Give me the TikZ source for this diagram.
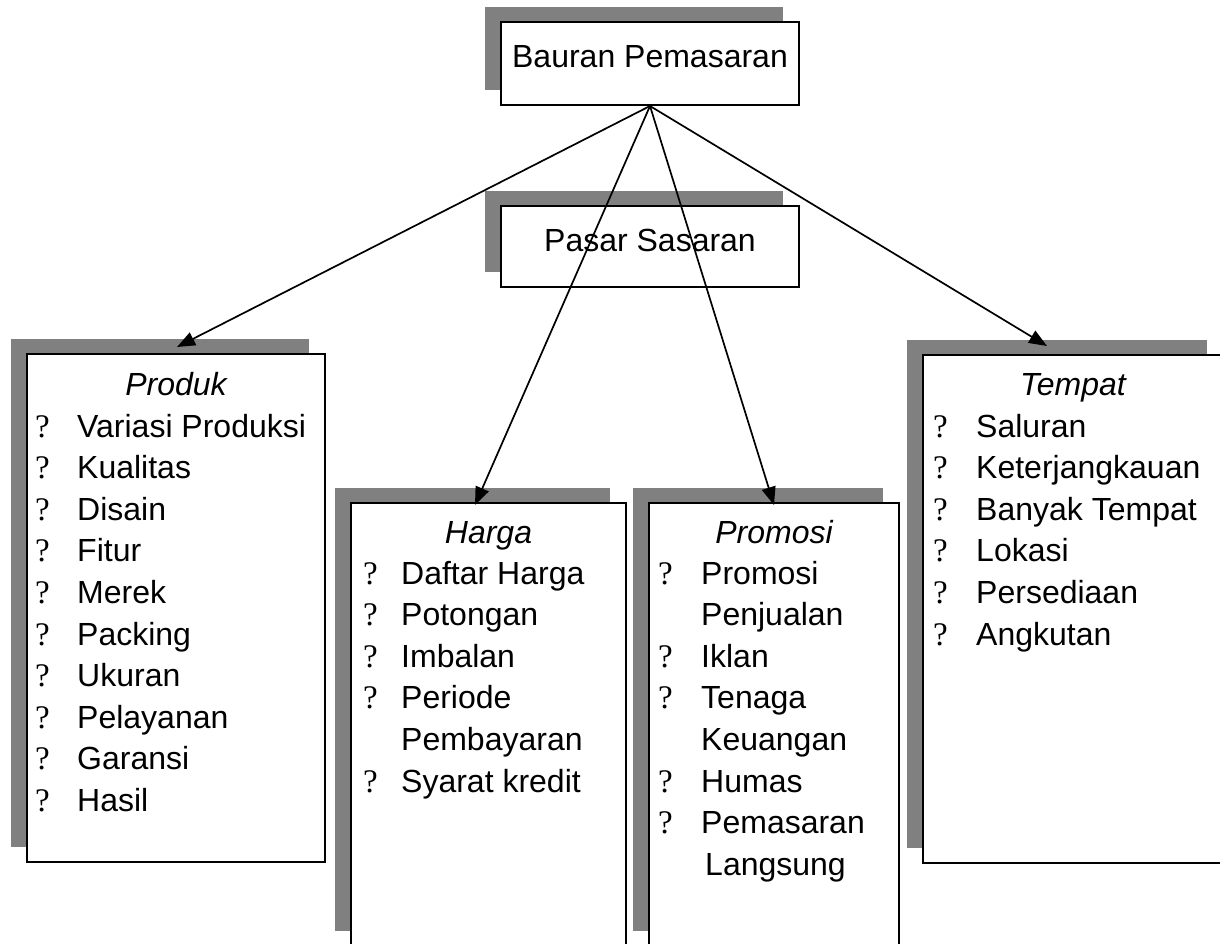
\documentclass[tikz,border=0pt]{standalone}
\usepackage{fontspec}
\setmainfont{Liberation Sans}
\newfontfamily\qfont{Liberation Serif}
\usetikzlibrary{arrows.meta,shadows}
\definecolor{shgray}{HTML}{808080}
\begin{document}
\begin{tikzpicture}[x=1pt,y=-1pt,
  box/.style={draw=black, line width=2pt, fill=white, inner sep=0pt,
    drop shadow={shadow xshift=-16pt, shadow yshift=15pt, fill=shgray, opacity=1}},
  txt/.style={inner sep=0pt, anchor=base, font=\fontsize{32}{38}\selectfont},
  item/.style={inner sep=0pt, anchor=base west, font=\fontsize{32}{38}\selectfont},
  head/.style={inner sep=0pt, anchor=base, font=\fontsize{32}{38}\selectfont\itshape},
  qm/.style={inner sep=0pt, anchor=base west, font=\fontsize{33}{38}\selectfont\qfont},
  conn/.style={line width=1.7pt, -{Triangle[length=18pt,width=14pt]}}]
\useasboundingbox (0,0) rectangle (1220,943);
\begin{scope}
\clip (0,0) rectangle (1220,943);
% boxes
\node[box, minimum width=298pt, minimum height=83pt] (bauran) at (650,63.5) {};
\node[box, minimum width=298pt, minimum height=81pt] (pasar) at (650,246.5) {};
\node[box, minimum width=298pt, minimum height=508pt] (produk) at (176,608) {};
\node[box, minimum width=275pt, minimum height=443pt] (harga) at (488.5,724.5) {};
\node[box, minimum width=250pt, minimum height=443pt] (promosi) at (774,724.5) {};
\node[box, minimum width=300pt, minimum height=508pt] (tempat) at (1073,609) {};
\end{scope}
% titles
\node[txt] (tb) at (650,67) {Bauran Pemasaran};
\node[txt] (tp) at (650,251) {Pasar Sasaran};
% Produk
\node[head] (hprod) at (176,395) {Produk};
\foreach \t [count=\i] in {Variasi Produksi,Kualitas,Disain,Fitur,Merek,Packing,Ukuran,Pelayanan,Garansi,Hasil}{
  \node[qm] (prodq\i) at (35,{437+41.6*(\i-1)}) {?};
  \node[item] (prodt\i) at (77,{437+41.6*(\i-1)}) {\t};
}
% Harga
\node[head] (hharga) at (488.5,543) {Harga};
\node[qm] (hq1) at (363,584) {?};
\node[item] (ht1) at (401,584) {Daftar Harga};
\node[qm] (hq2) at (363,625.6) {?};
\node[item] (ht2) at (401,625.6) {Potongan};
\node[qm] (hq3) at (363,667.2) {?};
\node[item] (ht3) at (401,667.2) {Imbalan};
\node[qm] (hq4) at (363,708.8) {?};
\node[item] (ht4) at (401,708.8) {Periode};
\node[item] (ht4b) at (401,750.4) {Pembayaran};
\node[qm] (hq5) at (363,792) {?};
\node[item] (ht5) at (401,792) {Syarat kredit};
% Promosi
\node[head] (hprom) at (774,543) {Promosi};
\node[qm] (pq1) at (658,584) {?};
\node[item] (pt1) at (701,584) {Promosi};
\node[item] (pt1b) at (701,625.6) {Penjualan};
\node[qm] (pq2) at (658,667.2) {?};
\node[item] (pt2) at (701,667.2) {Iklan};
\node[qm] (pq3) at (658,708.8) {?};
\node[item] (pt3) at (701,708.8) {Tenaga};
\node[item] (pt3b) at (701,750.4) {Keuangan};
\node[qm] (pq4) at (658,792) {?};
\node[item] (pt4) at (701,792) {Humas};
\node[qm] (pq5) at (658,833.6) {?};
\node[item] (pt5) at (701,833.6) {Pemasaran};
\node[item] (pt5b) at (705,875.2) {Langsung};
% Tempat
\node[head] (htemp) at (1073,395) {Tempat};
\foreach \t [count=\i] in {Saluran,Keterjangkauan,Banyak Tempat,Lokasi,Persediaan,Angkutan}{
  \node[qm] (tq\i) at (933,{437+41.6*(\i-1)}) {?};
  \node[item] (tt\i) at (976,{437+41.6*(\i-1)}) {\t};
}
% arrow tips
\coordinate (aprod) at (177,347);
\coordinate (aharga) at (475,505);
\coordinate (aprom) at (774,505);
\coordinate (atemp) at (1047,346);
\draw[conn] (bauran.south) -- (aprod);
\draw[conn] (bauran.south) -- (aharga);
\draw[conn] (bauran.south) -- (aprom);
\draw[conn] (bauran.south) -- (atemp);
\end{tikzpicture}
\end{document}
